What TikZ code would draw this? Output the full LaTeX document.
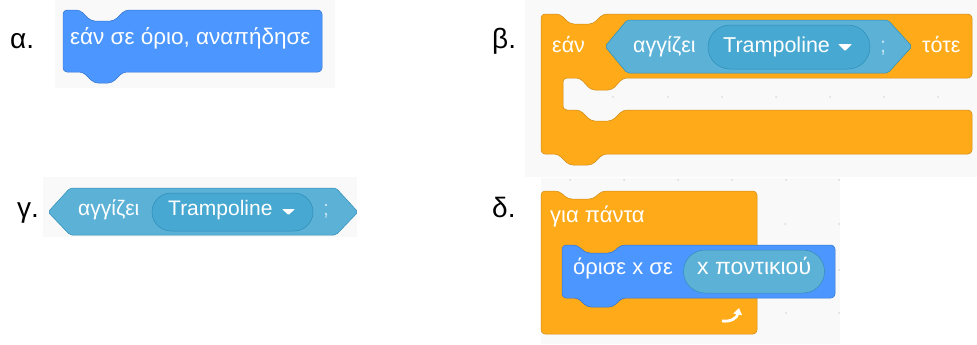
\documentclass[tikz,border=0pt]{standalone}
\usepackage{fontspec}
\setmainfont{Liberation Sans}
\usetikzlibrary{arrows.meta,shapes.misc}

\definecolor{motion}{HTML}{4C97FF}
\definecolor{motionedge}{HTML}{3373CC}
\definecolor{control}{HTML}{FFAB19}
\definecolor{controledge}{HTML}{CF8B17}
\definecolor{sensing}{HTML}{5CB1D6}
\definecolor{sensingedge}{HTML}{2E8EB8}
\definecolor{sensingdark}{HTML}{47A8D1}
\definecolor{canvas}{HTML}{F9F9F9}
\definecolor{griddot}{HTML}{DADADA}
\definecolor{qmark}{HTML}{C2E2F0}

\newcommand{\lblsize}{\fontsize{28bp}{30bp}\selectfont}
\newcommand{\blksize}{\fontsize{21bp}{23bp}\selectfont}
\newcommand{\lbl}{\node[anchor=base west, inner sep=0pt, font=\lblsize]}
\newcommand{\bt}{\node[anchor=mid west, inner sep=0pt, text=white, font=\blksize]}

\tikzset{
    motionblk/.style={fill=motion, draw=motionedge, line width=0.5pt, rounded corners=4pt},
    controlblk/.style={fill=control, draw=controledge, line width=0.5pt, rounded corners=4pt},
    sensingblk/.style={fill=sensing, draw=sensingedge, line width=0.5pt, rounded corners=2pt},
    pill/.style={rounded rectangle, draw=sensingedge, line width=0.5pt, inner sep=0pt},
    dropdown/.style={fill=white, rounded corners=0.8pt},
}

\begin{document}
\begin{tikzpicture}[x=1bp, y=-1bp]
    \useasboundingbox (0,0) rectangle (977,344);

    % canvas patches
    \fill[canvas] (55,0) rectangle (335,88);
    \fill[canvas] (525,0) rectangle (977,177);
    \fill[canvas] (43,177) rectangle (357,237);
    \fill[canvas] (541,178) rectangle (840,344);
    \fill[griddot]
        (613,97) circle (1) (668,97) circle (1) (722,97) circle (1) (776,97) circle (1)
        (830,97) circle (1) (884,97) circle (1) (938,97) circle (1)
        (570,180) circle (1) (624,180) circle (1) (678,180) circle (1) (732,180) circle (1)
        (786,180) circle (1) (839,180) circle (1)
        (785,224) circle (1) (839,224) circle (1) (839,270) circle (1)
        (786,313) circle (1) (839,313) circle (1);

    % alpha
    \renewcommand{\blksize}{\fontsize{22.5bp}{24bp}\selectfont}
    \lbl (lblA) at (10,48) {α.};
    \draw[motionblk] (63,10) -- (80,10) -- (91,21) -- (114,21) -- (125,10) -- (322,10)
        -- (322,72) -- (123,72) -- (112,83) -- (94,83) -- (83,72) -- (63,72) -- cycle;
    \bt (bounceA) at (70,42) {εάν σε όριο, αναπήδησε};

    % beta
    \renewcommand{\blksize}{\fontsize{21.5bp}{23bp}\selectfont}
    \lbl (lblB) at (492,48) {β.};
    \draw[controlblk] (541,14) -- (560,14) -- (570,24) -- (593,24) -- (603,14) -- (972,14)
        -- (972,78) -- (623,78) -- (612,90) -- (591,90) -- (580,78) -- (563,78)
        -- (563,110) -- (580,110) -- (591,121) -- (612,121) -- (623,110) -- (972,110)
        -- (972,154) -- (603,154) -- (592,165) -- (569,165) -- (558,154) -- (541,154) -- cycle;
    \draw[sensingblk] (605,46.5) -- (627,20) -- (888,20) -- (912,46.5) -- (888,73) -- (627,73) -- cycle;
    \node[pill, fill=sensingdark, minimum width=162bp, minimum height=44bp] (dropB) at (789,47) {};
    \bt (ifB) at (552,49.5) {εάν};
    \bt (touchB) at (633,49.5) {αγγίζει};
    \bt (trampB) at (723,49.5) {Trampoline};
    \fill[dropdown] (838,44) -- (852,44) -- (845,51) -- cycle;
    \bt[text=qmark] (qB) at (880,49.5) {;};
    \bt (thenB) at (922,49.5) {τότε};

    % gamma
    \renewcommand{\blksize}{\fontsize{21bp}{23bp}\selectfont}
    \lbl (lblG) at (17,217) {γ.};
    \draw[sensingblk] (48,212) -- (70,188) -- (336,188) -- (358,212) -- (336,235) -- (70,235) -- cycle;
    \node[pill, fill=sensingdark, minimum width=161bp, minimum height=38bp] (dropG) at (232.5,212) {};
    \bt (touchG) at (78,213) {αγγίζει};
    \bt (trampG) at (168,213) {Trampoline};
    \fill[dropdown] (282,209) -- (295,209) -- (288.5,215) -- cycle;
    \bt[text=qmark] (qG) at (323,213) {;};

    % delta
    \renewcommand{\blksize}{\fontsize{22bp}{24bp}\selectfont}
    \lbl (lblD) at (492,217) {δ.};
    \draw[controlblk] (541,191) -- (559,191) -- (568,199) -- (593,199) -- (602,191) -- (757,191)
        -- (757,334) -- (541,334) -- cycle;
    \bt (foreverD) at (550,220) {για πάντα};
    \draw[motionblk] (562,245) -- (577,245) -- (586,253) -- (612,253) -- (621,245) -- (835,245)
        -- (835,298) -- (622,298) -- (613,307) -- (587,307) -- (578,298) -- (562,298) -- cycle;
    \bt (setxD) at (573,272) {όρισε x σε};
    \node[pill, fill=sensing, minimum width=141bp, minimum height=43bp] (mouseD) at (754,271.5) {};
    \bt[font=\fontsize{23bp}{25bp}\selectfont] (mousexD) at (697,272) {x ποντικιού};
    \draw[white, line width=2.8bp, -{Triangle[length=6.5bp, width=8.5bp]}]
        (722,321) .. controls (731,322) and (737,318) .. (739,308);
\end{tikzpicture}
\end{document}
